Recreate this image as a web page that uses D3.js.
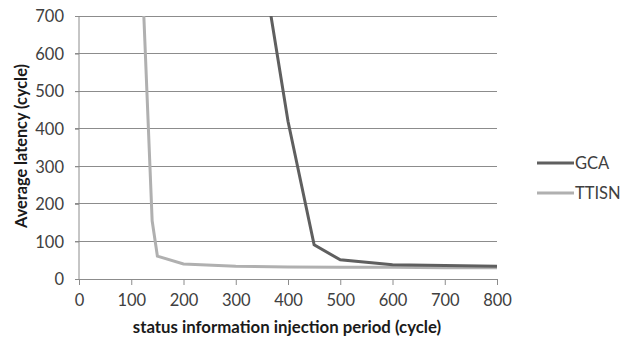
<!DOCTYPE html>
<html>
<head>
<meta charset="utf-8">
<script src="https://cdn.jsdelivr.net/npm/d3@7"></script>
<style>
  body { margin: 0; background: #fff; }
  text { font-family: Lato, "Liberation Sans", sans-serif; }
</style>
</head>
<body>
<div id="chart"></div>
<script>
// injection period (cycle)
const gcaPeriod = [350, 400, 450, 500, 600, 700, 800];
const gcaLatency = [850, 420, 91, 51, 38, 36, 34];
const ttisnPeriod = [120, 140, 150, 200, 300, 400, 500, 600, 700, 800];
const ttisnLatency = [840, 155, 61, 40, 34, 32, 31, 31, 30, 30];
const seriesNames = ['GCA', 'TTISN'];
const xTicks = [0, 100, 200, 300, 400, 500, 600, 700, 800];
const yTicks = [0, 100, 200, 300, 400, 500, 600, 700];

const width = 626, height = 340;
const margin = { top: 16, right: 129, bottom: 61, left: 79 };
const w = width - margin.left - margin.right;
const h = height - margin.top - margin.bottom;

const svg = d3.select('#chart').append('svg')
  .attr('width', width)
  .attr('height', height);

const g = svg.append('g')
  .attr('transform', `translate(${margin.left}, ${margin.top})`);

const x = d3.scaleLinear().domain([0, 800]).range([0, w]);
const y = d3.scaleLinear().domain([0, 700]).range([h, 0]);

// gridlines
g.selectAll('.grid')
  .data(yTicks.filter(d => d > 0))
  .enter().append('line')
    .attr('x1', -4).attr('x2', w)
    .attr('y1', d => y(d)).attr('y2', d => y(d))
    .attr('stroke', '#8c8c8c')
    .attr('stroke-width', 1)
    .attr('shape-rendering', 'crispEdges');

const xAxis = d3.axisBottom(x).tickValues(xTicks).tickSize(6).tickPadding(9);
const yAxis = d3.axisLeft(y).tickValues(yTicks).tickSize(4).tickPadding(11);

const xg = g.append('g').attr('transform', `translate(0, ${h})`).call(xAxis);
const yg = g.append('g').call(yAxis);

[xg, yg].forEach(a => {
  a.select('.domain').attr('stroke', '#8c8c8c');
  a.selectAll('.tick line').attr('stroke', '#8c8c8c');
  a.selectAll('.tick text')
    .attr('fill', '#404040')
    .style('font-size', '16.5px')
    .style('font-family', 'Lato, "Liberation Sans", sans-serif');
});
yg.selectAll('.tick text').attr('dy', '0.35em');
yg.select('.domain').attr('d', `M0,${h}V0`);

// lines
g.append('clipPath').attr('id', 'clip')
  .append('rect').attr('x', 0).attr('y', 0).attr('width', w).attr('height', h);

const line = d3.line().x(d => x(d[0])).y(d => y(d[1]));
const colors = { GCA: '#5f5f5f', TTISN: '#b0b0b0' };

const ttisnData = ttisnPeriod.map((p, i) => [p, ttisnLatency[i]]);
const gcaData = gcaPeriod.map((p, i) => [p, gcaLatency[i]]);

g.append('path')
  .datum(ttisnData)
  .attr('clip-path', 'url(#clip)')
  .attr('fill', 'none')
  .attr('stroke', colors.TTISN)
  .attr('stroke-width', 3)
  .attr('d', line);

g.append('path')
  .datum(gcaData)
  .attr('clip-path', 'url(#clip)')
  .attr('fill', 'none')
  .attr('stroke', colors.GCA)
  .attr('stroke-width', 3)
  .attr('d', line);

// axis titles
svg.append('text')
  .attr('x', 287)
  .attr('y', 333)
  .attr('text-anchor', 'middle')
  .style('font-size', '16.8px')
  .style('font-weight', 'bold')
  .attr('fill', '#1a1a1a')
  .text('status information injection period (cycle)');

svg.append('text')
  .attr('transform', `translate(27, 146) rotate(-90)`)
  .attr('text-anchor', 'middle')
  .style('font-size', '16.3px')
  .style('font-weight', 'bold')
  .attr('fill', '#1a1a1a')
  .text('Average latency (cycle)');

// legend
const legend = svg.append('g').attr('transform', 'translate(537, 163)');
seriesNames.forEach((name, i) => {
  const row = legend.append('g').attr('transform', `translate(0, ${i * 30})`);
  row.append('line')
    .attr('x1', 0).attr('x2', 37)
    .attr('stroke', colors[name])
    .attr('stroke-width', 3);
  row.append('text')
    .attr('x', 38).attr('y', 0).attr('dy', '0.35em')
    .style('font-size', '16.5px')
    .attr('fill', '#404040')
    .text(name);
});
</script>
</body>
</html>
